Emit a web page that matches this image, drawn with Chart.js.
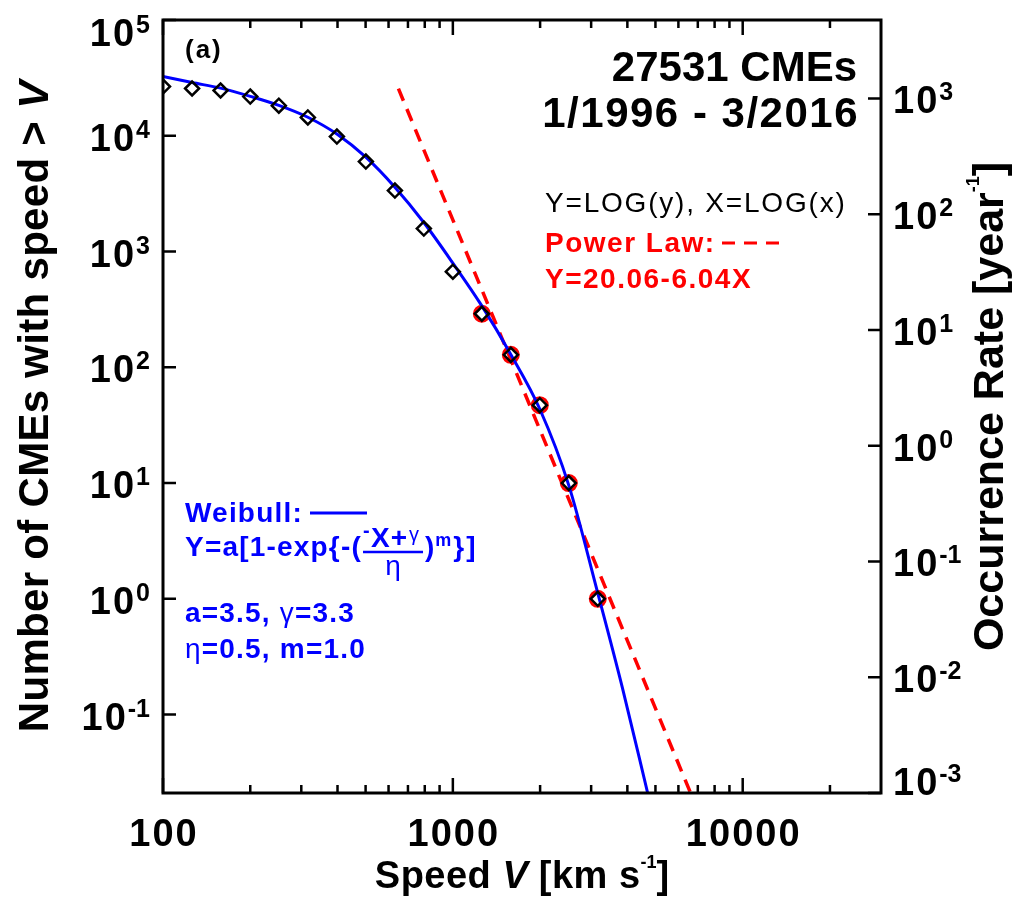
<!DOCTYPE html>
<html>
<head>
<meta charset="utf-8">
<script src="https://cdn.jsdelivr.net/npm/chart.js@4"></script>
<style>
  html, body { margin: 0; padding: 0; background: #fff; }
  #wrap { width: 1015px; height: 904px; }
</style>
</head>
<body>
<div id="wrap"><canvas id="c" width="1015" height="904"></canvas></div>
<script>
// Cumulative number of CMEs faster than each speed threshold
const speeds = [100, 126, 158, 200, 251, 316, 398, 501, 631, 794, 1000, 1259, 1585, 1995, 2512, 3162];
const counts = [26600, 25600, 24600, 21800, 18200, 14400, 9840, 5980, 3360, 1580, 670, 290, 128, 47, 10, 1];

// Thresholds used for the power-law fit (circled)
const fitSpeeds = [1259, 1585, 1995, 2512, 3162];
const fitCounts = [290, 128, 47, 10, 1];

// Weibull fit, sampled along the curve
const weibullSpeeds = [100, 126, 158, 200, 251, 316, 398, 501, 631, 794, 1000, 1259, 1585, 1995, 2512, 3162, 3846, 4700];
const weibullCounts = [32500, 28800, 25800, 21900, 18300, 14450, 10350, 6530, 3590, 1780, 794, 339, 129, 43.6, 9.55, 1.12, 0.17, 0.021];

// Power-law line end points
const powerSpeeds = [649, 6610];
const powerCounts = [25500, 0.021];

// Axis ticks
const xMajorTicks = [100, 1000, 10000];
const xTickLabels = ['100', '1000', '10000'];
const xMinorTicks = [200, 300, 400, 500, 600, 700, 800, 900,
                     2000, 3000, 4000, 5000, 6000, 7000, 8000, 9000, 20000];
const countExponents = [-1, 0, 1, 2, 3, 4, 5];
const rateExponents = [-3, -2, -1, 0, 1, 2, 3];

const BLUE = '#0000ff';
const RED = '#ff0000';
const FAM = '"Liberation Sans", Arial, Helvetica, sans-serif';

const pts = (xs, ys) => xs.map((v, i) => ({ x: v, y: ys[i] }));

// Draw a run of differently styled text pieces starting at x (baseline y)
function drawRuns(ctx, runs, x, y, align) {
  let total = 0;
  for (const r of runs) {
    ctx.font = r.font;
    ctx.letterSpacing = (r.ls || 0) + 'px';
    r.w = ctx.measureText(r.t).width;
    total += r.w + (r.gap || 0);
  }
  let cx = align === 'center' ? x - total / 2 : align === 'right' ? x - total : x;
  ctx.textAlign = 'left';
  ctx.textBaseline = 'alphabetic';
  for (const r of runs) {
    ctx.font = r.font;
    ctx.letterSpacing = (r.ls || 0) + 'px';
    if (r.color) ctx.fillStyle = r.color;
    ctx.fillText(r.t, cx, y + (r.dy || 0));
    cx += r.w + (r.gap || 0);
  }
  ctx.letterSpacing = '0px';
  return cx;
}

function powerLabel(ctx, exp, x, cy, align) {
  drawRuns(ctx, [
    { t: '10', font: 'bold 38px ' + FAM, ls: 2 },
    { t: String(exp), font: 'bold 25px ' + FAM, dy: -13 }
  ], x, cy + 15, align);
}

const axesPlugin = {
  id: 'idlAxes',
  afterDraw(chart) {
    const { ctx, chartArea: a, scales } = chart;
    const x = scales.x, y = scales.y, y2 = scales.y2;
    ctx.save();
    ctx.fillStyle = '#000';
    ctx.strokeStyle = '#000';

    // frame
    ctx.lineWidth = 3;
    ctx.strokeRect(a.left, a.top, a.right - a.left, a.bottom - a.top);

    // x ticks, bottom and top, pointing inward
    ctx.lineWidth = 2.5;
    ctx.beginPath();
    for (const v of xMajorTicks) {
      const px = x.getPixelForValue(v);
      ctx.moveTo(px, a.bottom); ctx.lineTo(px, a.bottom - 15);
      ctx.moveTo(px, a.top); ctx.lineTo(px, a.top + 15);
    }
    for (const v of xMinorTicks) {
      const px = x.getPixelForValue(v);
      ctx.moveTo(px, a.bottom); ctx.lineTo(px, a.bottom - 8);
      ctx.moveTo(px, a.top); ctx.lineTo(px, a.top + 8);
    }
    // left (counts) and right (rate) ticks
    for (const e of countExponents) {
      const py = y.getPixelForValue(Math.pow(10, e));
      ctx.moveTo(a.left, py); ctx.lineTo(a.left + 13, py);
    }
    for (const e of rateExponents) {
      const py = y2.getPixelForValue(Math.pow(10, e));
      ctx.moveTo(a.right, py); ctx.lineTo(a.right - 13, py);
    }
    ctx.stroke();

    // tick labels
    ctx.fillStyle = '#000';
    const clampY = py => Math.min(Math.max(py, a.top + 11), a.bottom - 13);
    for (const e of countExponents) {
      powerLabel(ctx, e, a.left - 13, clampY(y.getPixelForValue(Math.pow(10, e))), 'right');
    }
    for (const e of rateExponents) {
      powerLabel(ctx, e, a.right + 12, clampY(y2.getPixelForValue(Math.pow(10, e))), 'left');
    }
    xMajorTicks.forEach((v, i) => {
      drawRuns(ctx, [{ t: xTickLabels[i], font: 'bold 38px ' + FAM, ls: 2 }],
        x.getPixelForValue(v) + 1, a.bottom + 53, 'center');
    });

    // axis titles
    const midY = (a.top + a.bottom) / 2;
    drawRuns(ctx, [
      { t: 'Speed ', font: 'bold 38px ' + FAM, ls: 0.5 },
      { t: 'V', font: 'italic bold 38px ' + FAM },
      { t: ' [km s', font: 'bold 38px ' + FAM, ls: 0.5 },
      { t: '-1', font: 'bold 18px ' + FAM, dy: -20 },
      { t: ']', font: 'bold 38px ' + FAM }
    ], (a.left + a.right) / 2, a.bottom + 95, 'center');

    ctx.save();
    ctx.translate(48, midY);
    ctx.rotate(-Math.PI / 2);
    drawRuns(ctx, [
      { t: 'Number of CMEs with speed > ', font: 'bold 42px ' + FAM, ls: 0.3 },
      { t: 'V', font: 'italic bold 42px ' + FAM }
    ], 0, 0, 'center');
    ctx.restore();

    ctx.save();
    ctx.translate(1003, midY);
    ctx.rotate(-Math.PI / 2);
    drawRuns(ctx, [
      { t: 'Occurrence Rate [year', font: 'bold 43px ' + FAM },
      { t: '-1', font: 'bold 18px ' + FAM, dy: -24 },
      { t: ']', font: 'bold 43px ' + FAM }
    ], 0, 0, 'center');
    ctx.restore();

    // panel tag and catalogue info
    ctx.fillStyle = '#000';
    drawRuns(ctx, [{ t: '(a)', font: 'bold 26px ' + FAM, ls: 2 }], 185, 58, 'left');
    drawRuns(ctx, [{ t: '27531 CMEs', font: 'bold 42px ' + FAM }], 857, 81, 'right');
    drawRuns(ctx, [{ t: '1/1996 - 3/2016', font: 'bold 42px ' + FAM, ls: 1.5 }], 859, 127, 'right');

    // power-law annotation
    drawRuns(ctx, [{ t: 'Y=LOG(y), X=LOG(x)', font: '500 28px ' + FAM, ls: 1.8 }], 545, 212, 'left');
    drawRuns(ctx, [{ t: 'Power Law:', font: 'bold 28px ' + FAM, ls: 1.5, color: RED }], 545, 252, 'left');
    drawRuns(ctx, [{ t: 'Y=20.06-6.04X', font: 'bold 28px ' + FAM, ls: 1.5, color: RED }], 545, 288, 'left');
    ctx.strokeStyle = RED;
    ctx.lineWidth = 3;
    ctx.setLineDash([13, 9]);
    ctx.beginPath(); ctx.moveTo(722, 243); ctx.lineTo(782, 243); ctx.stroke();
    ctx.setLineDash([]);

    // Weibull annotation
    ctx.fillStyle = BLUE;
    const bold = 'bold 28px ' + FAM, reg = '28px ' + FAM;
    drawRuns(ctx, [{ t: 'Weibull:', font: bold, ls: 1.2 }], 185, 522, 'left');
    ctx.strokeStyle = BLUE;
    ctx.lineWidth = 3;
    ctx.beginPath(); ctx.moveTo(310, 513); ctx.lineTo(367, 513); ctx.stroke();

    const fx = drawRuns(ctx, [{ t: 'Y=a[1-exp{-(', font: bold, ls: 1.2 }], 185, 556, 'left') + 1;
    drawRuns(ctx, [{ t: '-', font: 'bold 20px ' + FAM }], fx, 537, 'left');
    const nx = drawRuns(ctx, [{ t: 'X+', font: bold, ls: 1 }], fx + 8, 547, 'left');
    const gx = drawRuns(ctx, [{ t: 'γ', font: '20px ' + FAM }], nx + 1, 541, 'left');
    const barEnd = Math.max(gx + 2, fx + 60);
    ctx.lineWidth = 2.5;
    ctx.beginPath(); ctx.moveTo(fx, 552); ctx.lineTo(barEnd, 552); ctx.stroke();
    drawRuns(ctx, [{ t: 'η', font: reg }], (fx + barEnd) / 2, 575, 'center');
    const px = drawRuns(ctx, [{ t: ')', font: bold }], barEnd + 2, 556, 'left');
    const mx = drawRuns(ctx, [{ t: 'm', font: 'bold 18px ' + FAM }], px + 1, 546, 'left');
    drawRuns(ctx, [{ t: '}]', font: bold, ls: 2 }], mx + 2, 556, 'left');

    drawRuns(ctx, [
      { t: 'a=3.5, ', font: bold, ls: 1.2 },
      { t: 'γ', font: reg, ls: 1.2 },
      { t: '=3.3', font: bold, ls: 1.2 }
    ], 185, 622, 'left');
    drawRuns(ctx, [
      { t: 'η', font: reg, ls: 1.2 },
      { t: '=0.5, m=1.0', font: bold, ls: 1.2 }
    ], 185, 658, 'left');

    ctx.restore();
  }
};

new Chart(document.getElementById('c'), {
  type: 'scatter',
  data: {
    datasets: [
      {
        label: 'CMEs with speed > V',
        data: pts(speeds, counts),
        pointStyle: 'rectRot',
        pointRadius: 7,
        pointBorderWidth: 2.5,
        pointBorderColor: '#000',
        pointBackgroundColor: 'rgba(0,0,0,0)',
        clip: 0
      },
      {
        label: 'Weibull fit',
        data: pts(weibullSpeeds, weibullCounts),
        showLine: true,
        borderColor: BLUE,
        borderWidth: 3,
        pointRadius: 0,
        cubicInterpolationMode: 'monotone',
        clip: 0
      },
      {
        label: 'Power-law fit range',
        data: pts(fitSpeeds, fitCounts),
        pointStyle: 'circle',
        pointRadius: 7.5,
        pointBorderWidth: 3,
        pointBorderColor: RED,
        pointBackgroundColor: 'rgba(0,0,0,0)',
        clip: 0
      },
      {
        label: 'Power law',
        data: pts(powerSpeeds, powerCounts),
        showLine: true,
        borderColor: RED,
        borderWidth: 3.5,
        borderDash: [13, 9],
        pointRadius: 0,
        clip: 0
      }
    ]
  },
  options: {
    responsive: false,
    animation: false,
    devicePixelRatio: 1,
    layout: { padding: { left: 163, top: 20, right: 134, bottom: 111 } },
    plugins: { legend: { display: false }, tooltip: { enabled: false } },
    scales: {
      x: { type: 'logarithmic', min: 100, max: 30000, display: false },
      y: { type: 'logarithmic', min: 0.021, max: 1e5, display: false },
      y2: { type: 'logarithmic', position: 'right', min: 0.001, max: 4762, display: false }
    }
  },
  plugins: [axesPlugin]
});
</script>
</body>
</html>
